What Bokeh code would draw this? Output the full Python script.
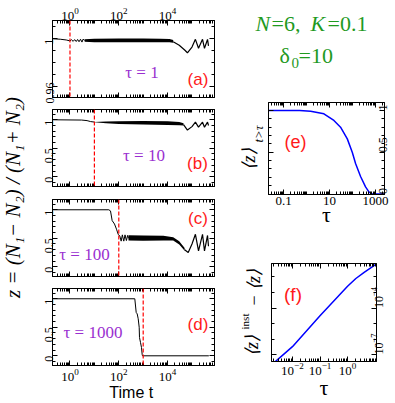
import math
from bokeh.plotting import figure
from bokeh.models import (LogAxis, LinearAxis, FixedTicker, Label, Span, Range1d,
                          CustomJSTickFormatter)
from bokeh.layouts import row, column
from bokeh.embed import file_html
from bokeh.resources import INLINE

SERIF = "Liberation Serif"
SANS = "Liberation Sans"
RED = "#ff1a1a"
PURPLE = "#9a2fd0"
GREEN = "#1f9a1f"
BLUE = "#0000ff"

# ---------------- data ----------------
# panel (a): tau = 1
a_t = [0.19, 0.4, 0.7, 1.0, 1.15, 1.35, 1.55, 1.8, 2.05, 2.35, 2.7, 3.1, 3.5, 4.0]
a_z = [1.0, 0.9996, 0.9990, 0.9982, 0.9992, 0.9978, 0.9993, 0.9977, 0.9994,
       0.9975, 0.9996, 0.9972, 0.9998, 0.9985]
a_band_t = [4.0, 10, 100, 1000, 5000, 12000, 17000]
a_band_lo = [0.9974, 0.9971, 0.9970, 0.9970, 0.9971, 0.9970, 0.9966]
a_band_hi = [0.9996, 1.0000, 1.0002, 1.0002, 1.0001, 0.9999, 0.9990]
a_tail_t = [17000, 30000, 50000, 65000, 100000, 138000, 185000, 270000, 325000, 433000, 475000]
a_tail_z = [0.9975, 0.9945, 0.9905, 0.9882, 0.9930, 0.9995, 0.9920, 0.9995, 0.9920, 0.9995, 0.9940]

# panel (b): tau = 10
b_t = [0.19, 3, 5, 7, 10]
b_z = [1.0, 0.995, 0.985, 0.968, 0.96]
b_band_t = [10, 30, 100, 1000, 10000, 30000, 45000]
b_band_lo = [0.955, 0.94, 0.925, 0.915, 0.91, 0.905, 0.90]
b_band_hi = [0.963, 0.968, 0.975, 0.977, 0.972, 0.962, 0.94]
b_tail_t = [45000, 65000, 100000, 138000, 185000, 270000, 325000, 433000, 475000]
b_tail_z = [0.915, 0.82, 0.88, 0.958, 0.87, 0.958, 0.87, 0.958, 0.90]

# panel (c): tau = 100
c_t = [0.19, 39, 45.7, 53.5, 66.7, 80.5, 94.5, 110, 125, 140, 160, 180, 205, 230, 250]
c_z = [1.0, 1.0, 0.98, 0.81, 0.75, 0.66, 0.57, 0.54, 0.45, 0.56, 0.45, 0.56, 0.46, 0.55, 0.5]
c_band_t = [250, 1000, 6700, 17000, 30000, 50000]
c_band_lo = [0.46, 0.455, 0.46, 0.46, 0.39, 0.28]
c_band_hi = [0.555, 0.55, 0.545, 0.52, 0.45, 0.33]
c_tail_t = [50000, 70000, 100000, 138000, 185000, 270000, 325000, 433000, 475000]
c_tail_z = [0.30, 0.25, 0.40, 0.57, 0.28, 0.57, 0.28, 0.55, 0.36]

# panel (d): tau = 1000
d_t = [0.19, 453, 517, 568, 624, 686, 705, 775, 851, 910, 935, 490000]
d_z = [1.0, 1.0, 0.76, 0.735, 0.65, 0.5, 0.32, 0.235, 0.147, 0.02, 0.0, 0.0]

# panel (e): <z>_{t>tau} versus tau
e_tau = [0.022, 0.1, 0.5, 1.5, 5.65, 15.4, 30, 59, 97, 135, 223, 367, 513, 720, 2450]
e_z = [1.0, 1.0, 0.998, 0.99, 0.96, 0.88, 0.80, 0.66, 0.50, 0.365, 0.21, 0.087, 0.027, 0.0, 0.0]

# panel (f): <z>^inst - <z> versus tau
f_tau = [0.0024, 0.01, 0.1, 1.0, 2.0, 4.0, 11.3]
f_dz = [3.5e-8, 3.2e-7, 3.2e-5, 2.5e-3, 8.0e-3, 2.0e-2, 7.0e-2]

tau_values = ["1", "10", "100", "1000"]

# ---------------- ticks ----------------
time_major = [1, 1e2, 1e4]
time_minor = [k * 10.0 ** e for e in range(-1, 6) for k in range(1, 10)
              if not (k == 1 and e in (0, 2, 4))]
zy_major = [0, 0.5, 1]
zy_minor = [-0.1, 0.1, 0.2, 0.3, 0.4, 0.6, 0.7, 0.8, 0.9, 1.1]
za_major = [0.96, 1.0]
za_minor = [0.97, 0.98, 0.99, 1.01]
e_x_major = [0.1, 10, 1000]
e_x_minor = [k * 10.0 ** e for e in range(-2, 4) for k in range(1, 10)
             if not (k == 1 and e in (-1, 1, 3))]
e_y_minor = [0.1, 0.2, 0.3, 0.4, 0.6, 0.7, 0.8, 0.9]
f_x_major = [1e-2, 1e-1, 1.0]
f_x_minor = [k * 10.0 ** e for e in range(-3, 2) for k in range(1, 10)
             if not (k == 1 and e in (-2, -1, 0))]
f_y_major = [1e-7, 1e-4, 1e-1]
f_y_minor = [1e-8, 1e-6, 1e-5, 1e-3, 1e-2]

BLANK = CustomJSTickFormatter(code="return ''")
PLAIN = CustomJSTickFormatter(code="return tick.toString()")


def make_fig(w, h, xr, yr, xlog, ylog, bl, br, bt, bb):
    p = figure(width=w, height=h, x_range=Range1d(*xr), y_range=Range1d(*yr),
               x_axis_type="log" if xlog else "linear",
               y_axis_type="log" if ylog else "linear",
               x_axis_location=None, y_axis_location=None,
               toolbar_location=None, output_backend="svg", title=None,
               min_border_left=bl, min_border_right=br,
               min_border_top=bt, min_border_bottom=bb, frame_align=False)
    p.grid.visible = False
    p.outline_line_color = "black"
    p.outline_line_width = 1
    p.background_fill_color = "white"
    p.border_fill_color = "white"
    return p


def text_fig(w, h):
    p = figure(width=w, height=h, x_range=Range1d(0, 1), y_range=Range1d(0, 1),
               x_axis_location=None, y_axis_location=None, toolbar_location=None,
               output_backend="svg", title=None, min_border=0, frame_align=False)
    p.grid.visible = False
    p.outline_line_color = None
    p.border_fill_color = "white"
    return p


def add_axis(p, cls, side, ticks, minor, labels=False, orient=None, size="13px",
             formatter=None, standoff=3):
    ax = cls(ticker=FixedTicker(ticks=ticks, minor_ticks=minor))
    ax.major_tick_in = 5
    ax.major_tick_out = 0
    ax.minor_tick_in = 3
    ax.minor_tick_out = 0
    ax.axis_line_color = "black"
    ax.major_tick_line_color = "black"
    ax.minor_tick_line_color = "black"
    ax.major_label_text_font = SERIF
    ax.major_label_text_color = "black"
    if labels:
        ax.major_label_text_font_size = size
        ax.major_label_standoff = standoff
        if formatter is not None:
            ax.formatter = formatter
    else:
        ax.major_label_text_font_size = "0px"
        ax.major_label_standoff = 0
        ax.formatter = BLANK
    if orient is not None:
        ax.major_label_orientation = orient
    p.add_layout(ax, side)
    return ax


def set_axis_label(ax, text, font, size, standoff, style="normal"):
    ax.axis_label = text
    ax.axis_label_text_font = font
    ax.axis_label_text_font_style = style
    ax.axis_label_text_font_size = size
    ax.axis_label_standoff = standoff
    ax.axis_label_text_color = "black"


def lab(p, ox, oy, px, py, text, size, color="black", font=SERIF, style="normal",
        align="center", baseline="middle", angle=0.0):
    """Place text at absolute picture position (px, py); (ox, oy) is the absolute
    position of the bottom-left corner of the figure's frame."""
    p.add_layout(Label(x=px - ox, y=oy - py, x_units="screen", y_units="screen",
                       text=text, text_font_size=f"{size}px", text_color=color,
                       text_font=font, text_font_style=style, text_align=align,
                       text_baseline=baseline, angle=angle))


# ---------------- left label column (x 0..34) ----------------
plab = text_fig(34, 403)
lab(plab, 0, 403, 12.5, 197, "z = (N\u2081\u2212 N\u2082) / (N\u2081+ N\u2082)", 21,
    style="italic", angle=math.pi / 2)

# ---------------- time panels (x 34..222) ----------------
XR = (0.192, 8.36e5)
time_specs = [
    # fig height, border top, border bottom, y range, frame bottom (abs)
    (103, 20, 6, (0.9505, 1.0154), 97),
    (89, 6, 6, (-0.17, 1.18), 186),
    (90, 7, 6, (-0.17, 1.18), 276),
    (121, 6, 38, (-0.17, 1.18), 365),
]
lines = [(a_t, a_z), (b_t, b_z), (c_t, c_z), (d_t, d_z)]
bands = [(a_band_t, a_band_lo, a_band_hi), (b_band_t, b_band_lo, b_band_hi),
         (c_band_t, c_band_lo, c_band_hi), None]
tails = [(a_tail_t, a_tail_z), (b_tail_t, b_tail_z), (c_tail_t, c_tail_z), None]
tau_pos = [(141.5, 71.5), (143.5, 155), (84, 253.5), (92.5, 331.5)]
tag_pos = [(197.5, 78.5), (197, 162.5), (197.5, 217.5), (197.5, 323.5)]
tags = ["(a)", "(b)", "(c)", "(d)"]

time_figs = []
for i, (h, bt, bb, yr, fbot) in enumerate(time_specs):
    p = make_fig(188, h, XR, yr, True, False, 18, 8, bt, bb)
    yt, ym = (za_major, za_minor) if i == 0 else (zy_major, zy_minor)
    add_axis(p, LinearAxis, "left", yt, ym, labels=True, orient=math.pi / 2,
             size="12px", standoff=3)
    add_axis(p, LinearAxis, "right", yt, ym)
    add_axis(p, LogAxis, "above", time_major, time_minor, labels=(i == 0), size="13px",
             standoff=1)
    bottom = add_axis(p, LogAxis, "below", time_major, time_minor, labels=(i == 3),
                      size="13px", standoff=3)
    if i == 3:
        set_axis_label(bottom, "Time  t", SANS, "16px", 0)
    tt, zz = lines[i]
    p.line(tt, zz, line_color="black", line_width=1)
    if bands[i] is not None:
        bt_, lo, hi = bands[i]
        p.varea(x=bt_, y1=lo, y2=hi, fill_color="black")
    if tails[i] is not None:
        p.line(tails[i][0], tails[i][1], line_color="black", line_width=1.2)
    p.add_layout(Span(location=float(tau_values[i]), dimension="height",
                      line_color="red", line_dash="4 2", line_width=1.2))
    lab(p, 52, fbot, tau_pos[i][0], tau_pos[i][1], "\u03c4 = " + tau_values[i], 17,
        color=PURPLE)
    lab(p, 52, fbot, tag_pos[i][0], tag_pos[i][1], tags[i], 17, color=RED, font=SANS)
    time_figs.append(p)

# ---------------- right column (x 222..395) ----------------
# parameter annotation: abs y 0..96
pann = text_fig(173, 96)
lab(pann, 222, 96, 255, 23, "N", 22, color=GREEN, style="italic", align="left",
    baseline="alphabetic")
lab(pann, 222, 96, 271, 23, "=6,", 22, color=GREEN, align="left", baseline="alphabetic")
lab(pann, 222, 96, 310, 23, "K", 22, color=GREEN, style="italic", align="left",
    baseline="alphabetic")
lab(pann, 222, 96, 327, 23, "=0.1", 22, color=GREEN, align="left", baseline="alphabetic")
lab(pann, 222, 96, 279, 55, "\u03b4", 22, color=GREEN, align="left", baseline="alphabetic")
lab(pann, 222, 96, 291, 62, "0", 15, color=GREEN, align="left", baseline="alphabetic")
lab(pann, 222, 96, 298, 55, "=10", 22, color=GREEN, align="left", baseline="alphabetic")

# panel (e): abs y 96..230, label strip x 222..266, plot x 266..395 ; frame 268..384 x 102..194
pe_lab = text_fig(44, 134)
lab(pe_lab, 222, 230, 248.5, 158.5, "\u27e8z\u27e9", 18, style="italic", angle=math.pi / 2)
lab(pe_lab, 222, 230, 257.5, 133.5, "t>\u03c4", 13, style="italic", angle=math.pi / 2)

pe = make_fig(129, 134, (0.022, 2450), (-0.005, 1.095), True, False, 2, 11, 6, 36)
eb = add_axis(pe, LogAxis, "below", e_x_major, e_x_minor, labels=True, size="13px",
              formatter=PLAIN, standoff=2)
set_axis_label(eb, "\u03c4", SERIF, "22px", -6)
add_axis(pe, LogAxis, "above", e_x_major, e_x_minor)
add_axis(pe, LinearAxis, "left", zy_major, e_y_minor)
add_axis(pe, LinearAxis, "right", zy_major, e_y_minor, labels=True, orient=math.pi / 2,
         size="12px", standoff=-1)
pe.line(e_tau, e_z, line_color=BLUE, line_width=1.5)
lab(pe, 268, 194, 295, 141.5, "(e)", 18, color=RED, font=SANS)

# panel (f): abs y 230..403, label strip x 222..266, plot x 266..395 ; frame 271..376 x 263..361
pf_lab = text_fig(44, 173)
lab(pf_lab, 222, 403, 251, 345, "\u27e8z\u27e9", 18, style="italic", angle=math.pi / 2)
lab(pf_lab, 222, 403, 244, 321, "inst", 11, angle=math.pi / 2)
lab(pf_lab, 222, 403, 253, 300, "\u2212", 18, angle=math.pi / 2)
lab(pf_lab, 222, 403, 253, 279, "\u27e8z\u27e9", 18, style="italic", angle=math.pi / 2)

pf = make_fig(129, 173, (10 ** -2.76, 10 ** 1.05), (10 ** -7.45, 10 ** -1.13), True, True,
              5, 19, 33, 42)
fb_ = add_axis(pf, LogAxis, "below", f_x_major, f_x_minor, labels=True, size="13px",
               standoff=1)
set_axis_label(fb_, "\u03c4", SERIF, "22px", -3)
add_axis(pf, LogAxis, "above", f_x_major, f_x_minor)
add_axis(pf, LogAxis, "left", f_y_major, f_y_minor)
add_axis(pf, LogAxis, "right", f_y_major, f_y_minor, labels=True, orient=math.pi / 2,
         size="12px", standoff=0)
pf.line(f_tau, f_dz, line_color=BLUE, line_width=1.5)
lab(pf, 271, 361, 292.5, 293.5, "(f)", 19, color=RED, font=SANS)

left_col = column(*time_figs)
right_col = column(pann, row(pe_lab, pe), row(pf_lab, pf))
root = row(plab, left_col, right_col)

open("out.html", "w").write(file_html(root, INLINE))
